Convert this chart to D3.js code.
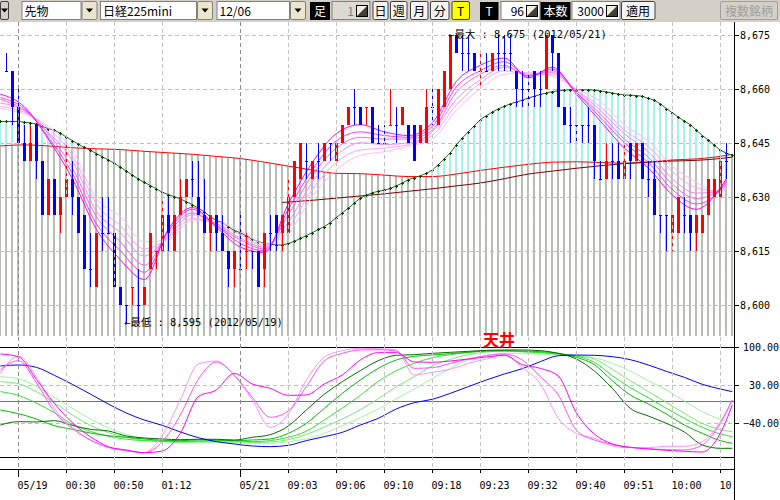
<!DOCTYPE html>
<html>
<head>
<meta charset="utf-8">
<script src="https://cdn.jsdelivr.net/npm/d3@7"></script>
<style>
  body { margin: 0; background: #fff; }
  svg { display: block; }
</style>
</head>
<body>
<div id="chart"></div>
<script>
// ---- data ----
// candles for bars 1..121 : [open, high, low, close]
const ohlc = [
  [8665,8670,8665,8665],[8665,8665,8650,8655],[8655,8660,8645,8645],[8645,8650,8640,8640],[8640,8650,8640,8645],
  [8650,8650,8635,8640],[8640,8640,8625,8625],[8625,8635,8625,8635],[8635,8635,8625,8625],[8625,8630,8620,8630],
  [8630,8645,8630,8635],[8635,8640,8625,8630],[8630,8630,8620,8620],[8625,8625,8610,8610],[8610,8620,8605,8610],
  [8605,8620,8605,8620],[8620,8630,8615,8620],[8620,8630,8620,8620],[8620,8620,8605,8605],[8605,8605,8600,8600],
  [8600,8600,8595,8600],[8605,8605,8600,8605],[8600,8610,8595,8600],[8600,8605,8600,8605],[8610,8620,8610,8620],
  [8615,8615,8610,8615],[8615,8630,8615,8625],[8625,8630,8615,8620],[8615,8625,8615,8625],[8625,8635,8625,8630],
  [8630,8635,8630,8635],[8635,8640,8630,8635],[8630,8640,8625,8625],[8625,8635,8620,8620],[8620,8625,8615,8625],
  [8625,8625,8615,8620],[8620,8625,8615,8615],[8615,8615,8605,8610],[8610,8615,8605,8615],[8610,8625,8610,8610],
  [8615,8620,8610,8615],[8615,8615,8610,8615],[8615,8615,8605,8605],[8610,8620,8605,8620],[8620,8625,8615,8620],
  [8625,8625,8615,8620],[8620,8625,8615,8625],[8620,8635,8620,8630],[8630,8640,8630,8640],[8635,8645,8635,8645],
  [8640,8645,8635,8640],[8635,8640,8635,8640],[8640,8645,8635,8640],[8640,8645,8640,8645],[8645,8645,8640,8645],
  [8640,8645,8640,8645],[8645,8650,8645,8650],[8650,8655,8650,8655],[8655,8660,8650,8655],[8655,8655,8650,8650],
  [8655,8655,8650,8655],[8655,8655,8645,8645],[8645,8650,8645,8645],[8645,8650,8645,8645],[8650,8660,8650,8650],
  [8650,8655,8645,8650],[8650,8655,8650,8655],[8650,8650,8645,8645],[8650,8650,8640,8640],[8645,8650,8645,8650],
  [8645,8660,8645,8655],[8655,8660,8650,8655],[8650,8660,8650,8660],[8655,8665,8655,8665],[8660,8675,8660,8675],
  [8675,8675,8670,8670],[8670,8675,8665,8670],[8670,8675,8665,8670],[8670,8670,8665,8665],[8665,8670,8660,8665],
  [8665,8670,8665,8665],[8665,8670,8665,8670],[8670,8675,8665,8670],[8670,8675,8665,8670],[8670,8675,8665,8670],
  [8665,8665,8655,8660],[8660,8665,8655,8660],[8660,8665,8655,8660],[8665,8665,8655,8660],[8660,8665,8655,8660],
  [8660,8675,8660,8675],[8675,8675,8665,8670],[8670,8670,8655,8655],[8655,8655,8650,8650],[8650,8655,8645,8650],
  [8650,8650,8645,8650],[8650,8650,8645,8650],[8650,8655,8645,8650],[8650,8650,8635,8640],[8635,8640,8635,8635],
  [8635,8645,8635,8640],[8640,8645,8635,8640],[8640,8645,8635,8635],[8635,8645,8635,8640],[8645,8645,8635,8640],
  [8640,8645,8640,8645],[8645,8645,8635,8635],[8635,8640,8630,8635],[8635,8640,8625,8625],[8625,8625,8620,8625],
  [8625,8625,8615,8625],[8620,8625,8615,8625],[8620,8630,8620,8630],[8625,8630,8620,8625],[8625,8625,8615,8620],
  [8620,8625,8615,8625],[8620,8625,8620,8625],[8625,8635,8625,8635],[8630,8635,8630,8635],[8630,8640,8630,8640],
  [8640,8645,8635,8640]
];
const redDoji = [22, 26, 41, 61, 65, 80];

// long average (red) and second long average (brown)
const maRedIdx = [0,4,8,12,16,20,24,28,32,36,40,44,48,52,56,60,64,68,72,76,80,84,88,92,96,100,104,108,112,116,120,122];
const maRed = [8644.1,8644.4,8644.1,8643.6,8643.3,8643.1,8642.6,8642.2,8641.8,8641.2,8640.6,8639.6,8638.5,8637.4,8636.5,8636.4,
  8636,8635.6,8635.6,8636.3,8637.3,8638.2,8639,8639.6,8639.7,8639.5,8639.3,8639.6,8640.2,8640.5,8641.2,8641.8];
const maBrownIdx = [47,52,56,60,64,68,72,76,80,84,88,92,96,100,104,108,112,116,120,122];
const maBrown = [8628.4,8629,8629.6,8630.2,8630.8,8631.5,8632.2,8633,8633.8,8635,8636.3,8637.1,8637.9,8638.6,8639.2,8639.6,
  8639.9,8640.1,8640.6,8641];

// dark green average with markers, bars 0..122
const maGreen = [
  8650.9,8650.9,8650.9,8650.9,8650.7,8650.5,8650.2,8649.5,8648.9,8648.5,
  8647.6,8646.6,8645.6,8644.6,8643.7,8642.9,8642,8641.1,8640.2,8639.3,
  8638.2,8637.1,8636,8634.9,8634,8633.1,8632.2,8631.2,8630.6,8630,
  8629.4,8628.6,8627.8,8626.8,8625.8,8624.4,8623.4,8622.8,8621.7,8620.6,
  8620,8619.1,8618.2,8617.5,8617.1,8616.8,8616.6,8616.6,8617,8617.6,
  8618.4,8619.2,8620,8620.9,8621.7,8622.8,8624.2,8625.5,8626.8,8628.2,
  8629.6,8630.4,8631.1,8631.5,8631.8,8632.3,8633,8633.8,8634.7,8635.3,
  8635.8,8636.5,8637.4,8638.9,8640.5,8642.2,8644.4,8646.3,8648,8649.7,
  8651.4,8652.5,8653.5,8654.4,8655.1,8655.8,8656.3,8656.8,8657.4,8657.9,
  8658.4,8658.8,8659.2,8659.4,8659.6,8659.7,8659.7,8659.7,8659.7,8659.6,
  8659.4,8659.1,8658.8,8658.5,8658.3,8658.2,8658.1,8657.9,8657.3,8656.8,
  8655.8,8654.5,8653.3,8652.1,8651,8650,8648.5,8647,8645.7,8644.3,
  8642.9,8642.1,8641.5
];

// pink ribbon, fastest first
const ribbonIdx = [0,4,8,12,16,20,24,28,32,36,40,44,48,52,56,60,64,68,72,76,80,84,88,92,96,100,104,108,112,116,120,121];
const ribbon1 = [8658.5,8655,8646,8635,8621,8612.5,8607,8621,8627,8621.5,8616,8614.5,8628,8639.5,8647.5,8650,8648,8647,8650.5,8662,8666.5,8668.5,8663,8666,8658.5,8651,8643.5,8638,8630.5,8626.5,8632.5,8635];
const ribbon2 = [8657.5,8654.5,8646.5,8636.5,8622.5,8615,8609,8620.5,8626.5,8622,8617,8615,8626.5,8637.5,8645.5,8648,8647,8646.5,8649.5,8660.5,8665,8667.5,8663.5,8665.5,8659,8652,8645,8639.5,8632,8628,8632,8634.5];
const ribbon3 = [8657,8654,8647.5,8638,8624.5,8617.5,8611,8620,8625.5,8622,8618,8615.5,8625,8636,8643.5,8646.5,8646,8646,8648.5,8659,8664,8666.5,8663.5,8665,8659,8653,8646,8641,8633.5,8629.5,8632,8634];
const ribbon4 = [8656,8654,8648,8640,8626,8620,8613.5,8619,8625,8622.5,8618.5,8616,8623,8634,8641.5,8645,8644.5,8645,8648,8657,8662.5,8666,8664,8664.5,8659.5,8654,8647.5,8642.5,8635,8631,8631.5,8633.5];
const ribbon5 = [8655,8653.5,8649,8641.5,8628,8622,8615.5,8618.5,8624,8622.5,8619.5,8616.5,8621.5,8632,8639.5,8643,8643.5,8644.5,8647,8655.5,8661.5,8665,8664,8664,8659.5,8655,8648.5,8644,8637,8632.5,8631.5,8633];
const ribbon6 = [8654.5,8653,8649.5,8643,8629.5,8624.5,8617.5,8618,8623.5,8623,8620.5,8617,8620,8630,8637.5,8641.5,8642.5,8644,8646,8654,8660,8664,8664.5,8663.5,8660,8656.5,8650,8645.5,8638.5,8634,8631,8632.5];
const ribbonColors = ["#ff00ff","#ff33ff","#ff5cff","#ff80ff","#ffa0ff","#ffbcff"];

// oscillator panel
const oscIdx = [0,3,6,9,12,15,18,21,24,27,30,33,36,39,42,45,48,51,54,57,60,63,
  66,69,72,75,78,81,84,87,90,93,96,99,102,105,108,111,114,117,120,122];
const oscBlue = [65,66.9,62.6,47.9,31.3,13.5,-4.9,-21.5,-34.4,-44.2,-56.4,-66.9,-74.2,-78.5,-82.2,-83.4,-81,-72.4,-65,-57.1,-43.6,-31.3,
  -14.1,-2.5,3.7,14.7,27,39.3,50.3,60.1,73,84,85.3,84.7,82.2,76.7,66.9,55.2,44.2,31.3,22.7,17.8];
const oscG1 = [-43.6,-37.4,-38,-35.6,-44.2,-51.5,-54.6,-63.8,-67.5,-69.3,-70.6,-69.9,-69.9,-71.2,-66.3,-61.3,-45.4,-16,12.9,36.2,56.4,74.8,
  84.7,85.9,88.3,90.2,92,93.9,94.5,94.5,93.3,88.3,77.9,55.8,23.9,-12.9,-27,-40.5,-56.4,-80.4,-86.5,-86.5];
const oscG2 = [-16,-22.7,-32.5,-44.8,-51.5,-58.3,-63.2,-66.3,-69.3,-71.8,-72.4,-71.2,-71.2,-72.4,-71.2,-69.3,-58.9,-40.5,-12.9,14.7,39.3,60.7,
  76.1,82.8,85.3,87.7,90.2,92.6,93.3,92.6,91.4,88.3,81,67.5,38,11.7,-4.9,-23.3,-43.6,-58.9,-72.4,-77.3];
const oscG3 = [17.8,11,-3.1,-20.9,-42.3,-55.2,-64.4,-69.9,-72.4,-73.6,-74.2,-73.6,-72.4,-73,-74.2,-72.4,-66.3,-55.2,-34.4,-12.3,11,36.8,
  56.4,69.9,80.4,85.9,90.2,92.6,92.6,91.4,89.6,87.1,83.4,71.8,47.2,25.2,6.7,-12.9,-31.3,-47.9,-60.1,-65];
const oscG4 = [36.2,32.5,17.8,-2.5,-25.2,-44.2,-57.7,-66.3,-71.8,-74.2,-75.5,-74.2,-74.2,-74.2,-76.1,-74.8,-70.6,-61.3,-47.2,-32.5,-15.3,4.9,
  27,45.4,65,77.3,85.9,90.8,92.6,91.4,89.6,87.1,84,77.9,58.9,38,17.8,-1.8,-22.1,-40.5,-52.1,-55.8];
const oscG5 = [45.4,41.7,27.6,7.4,-12.9,-32.5,-49.1,-60.7,-68.7,-73.6,-75.5,-76.1,-76.1,-76.1,-77.3,-77.3,-74.2,-69.3,-58.9,-44.8,-30.1,-14.1,
  4.9,22.7,42.3,60.7,76.1,84.7,88.3,88.3,87.1,85.3,83.4,80.4,69.9,55.8,38,20.9,0.6,-19,-33.1,-40.5];
const oscP1 = [87.1,82.2,40.5,-3.7,-39.3,-65,-83.4,-89.6,-94.5,-91.4,-58.9,8.6,20.9,51.5,31.9,23.9,11,11.7,31.9,48.5,76.1,89.6,
  89.6,72.4,71.8,74.2,77.9,81.6,84.7,67.5,60.7,46.6,-20.9,-60.1,-78.5,-84.7,-87.7,-90.2,-92,-93.3,-58.9,-6.7];
const oscP2 = [57.7,74.8,34.4,-19,-49.7,-71.2,-84.7,-90.8,-94.5,-74.2,-25.2,40.5,72.4,48.5,7.4,-29.4,-17.8,27,74.2,88.3,94.5,95.1,
  92.6,60.7,62,69.9,77.9,84,87.1,76.1,45.4,11.7,-52.8,-71.2,-79.1,-84.7,-87.1,-89,-89.6,-80.4,-40.5,2.5];
const oscP3 = [51.5,83.4,45.4,-12.9,-47.9,-71.2,-84.7,-90.8,-94.5,-62,2.5,68.7,74.2,47.2,2.5,-47.9,-23.3,39.3,81,93.3,97.5,96.9,
  94.5,48.5,53.4,58.9,69.9,77.9,85.9,62,32.5,-31.3,-58.9,-68.1,-82.2,-85.3,-85.3,-82.8,-82.8,-74.2,-37.4,2.5];

const priceTicks = [8600, 8615, 8630, 8645, 8660, 8675];
const oscTicks = [100, 30, -40];
const timeTickIdx = [3,11,19,27,40,48,56,64,72,80,88,96,104,112,120];
const timeLabels = ["05/19","00:30","00:50","01:12","05/21","09:03","09:06","09:10","09:18","09:23","09:32","09:40","09:51","10:00","10:09"];
const dayTickIdx = [3, 40];
const notes = [
  { idx: 75, price: 8675, text: "←最大 : 8,675 (2012/05/21)" },
  { idx: 21, price: 8595, text: "←最低 : 8,595 (2012/05/19)" }
];

// ---- layout ----
const W = 780, H = 500;
const P = { left: 0, right: 734, top: 22, bottom: 336 };
const O = { top: 347, bottom: 457, axis: 469 };
const mono = "'DejaVu Sans Mono', 'Noto Sans CJK JP', monospace";
const jp = "'Noto Sans CJK JP', sans-serif";

const x = d3.scaleLinear().domain([0, 122]).range([0.3, 732.3]);
const y = d3.scaleLinear().domain([8595, 8675]).range([322.7, 34.7]);
const yo = d3.scaleLinear().domain([-102.5, 100]).range([O.bottom, O.top]);
const px = i => Math.round(x(i));

const svg = d3.select("#chart").append("svg")
  .attr("width", W).attr("height", H)
  .style("background-color", "#fff");
const defs = svg.append("defs");

// ---- toolbar ----
const tb = svg.append("g").attr("font-family", jp).attr("font-size", 12);
tb.append("rect").attr("width", W).attr("height", 22).attr("fill", "#d4d0c8");

function sunken(x0, w, fill) {
  tb.append("rect").attr("x", x0 + 0.5).attr("y", 1.5).attr("width", w - 1).attr("height", 18)
    .attr("fill", fill).attr("stroke", "#808080");
}
function raised(x0, w, fill, stroke) {
  tb.append("rect").attr("x", x0 + 0.5).attr("y", 1.5).attr("width", w - 1).attr("height", 18)
    .attr("rx", 1.5).attr("fill", fill).attr("stroke", stroke || "#404040");
}
function tri(cx) {
  tb.append("path").attr("d", `M${cx - 3.5},8.5h7l-3.5,4z`).attr("fill", "#000");
}
function label(tx, text, opts = {}) {
  tb.append("text").attr("x", tx).attr("y", 15.5)
    .attr("text-anchor", opts.anchor || "start")
    .attr("fill", opts.fill || "#000")
    .attr("font-family", opts.font || jp)
    .text(text);
}
function spin(x0) {
  tb.append("rect").attr("x", x0 + 0.5).attr("y", 5.5).attr("width", 11).attr("height", 11)
    .attr("fill", "#f4f0d8").attr("stroke", "#000");
  tb.append("path").attr("d", `M${x0 + 1},${16}L${x0 + 11},${6}V${16}z`).attr("fill", "#404040");
}

raised(0, 9, "#d4d0c8"); tri(4.5);
[[21.5, 60, "先物"], [100, 97, "日経225mini"], [216.5, 73.5, "12/06"]].forEach(([x0, w, t]) => {
  sunken(x0, w, "#fff");
  label(x0 + 3, t);
  raised(x0 + w, 16, "#ece6cc", "#808080");
  tri(x0 + w + 8);
});
tb.append("rect").attr("x", 310).attr("y", 2).attr("width", 20).attr("height", 18).attr("fill", "#000");
label(320, "足", { anchor: "middle", fill: "#fff" });
sunken(331.5, 39, "#dcdad2"); label(354, "1", { anchor: "end", fill: "#808080" }); spin(356);
[[372.5, 16, "日"], [390, 17.5, "週"], [410, 18.5, "月"], [430, 19.5, "分"]].forEach(([x0, w, t]) => {
  raised(x0, w, "#f4f4f4"); label(x0 + w / 2, t, { anchor: "middle" });
});
raised(451.5, 18.5, "#ffff00"); label(460.7, "T", { anchor: "middle" });
tb.append("rect").attr("x", 480).attr("y", 2).attr("width", 18.5).attr("height", 18).attr("fill", "#000");
label(489, "T", { anchor: "middle", fill: "#fff" });
sunken(500.5, 40, "#fff"); label(524, "96", { anchor: "end" }); spin(526);
tb.append("rect").attr("x", 540.5).attr("y", 2).attr("width", 30).attr("height", 18).attr("fill", "#000");
label(555.5, "本数", { anchor: "middle", fill: "#fff" });
sunken(571.5, 49, "#fff"); label(604, "3000", { anchor: "end" }); spin(606);
raised(621, 34.5, "#f4f4f4"); label(638, "適用", { anchor: "middle" });
raised(720, 58, "#d4d0c8", "#a0a0a0"); label(749, "複数銘柄", { anchor: "middle", fill: "#a0a0a0" });

// ---- clip regions ----
defs.append("clipPath").attr("id", "pricePlot").append("rect")
  .attr("x", P.left).attr("y", P.top).attr("width", P.right - P.left).attr("height", P.bottom - P.top);
defs.append("clipPath").attr("id", "oscPlot").append("rect")
  .attr("x", P.left).attr("y", O.top - 2).attr("width", P.right - P.left).attr("height", O.bottom - O.top + 4);
defs.append("clipPath").attr("id", "axisClip").append("rect")
  .attr("x", 0).attr("y", 0).attr("width", P.right).attr("height", H);

const redPts = maRedIdx.map((i, k) => [x(i), y(maRed[k])]);
const greenPts = maGreen.map((v, i) => [x(i), y(v)]);
const ext = pts => [[-6, pts[0][1]], ...pts, [P.right + 6, pts[pts.length - 1][1]]];
const areaTo = (base, curve) => d3.area().x(d => d[0]).y0(base).y1(d => d[1]).curve(curve);

defs.append("clipPath").attr("id", "belowRed").append("path")
  .attr("d", areaTo(P.bottom, d3.curveMonotoneX)(ext(redPts)));
defs.append("clipPath").attr("id", "aboveRed").append("path")
  .attr("d", areaTo(P.top, d3.curveMonotoneX)(ext(redPts)));
defs.append("clipPath").attr("id", "belowGreen").append("path")
  .attr("d", areaTo(P.bottom, d3.curveLinear)(ext(greenPts)));

// ---- price panel ----
const price = svg.append("g").attr("clip-path", "url(#pricePlot)");
const bars = d3.range(0, 123);

// grid
price.append("g").selectAll("line").data(priceTicks).join("line")
  .attr("x1", P.left).attr("x2", P.right)
  .attr("y1", d => Math.round(y(d)) + 0.5).attr("y2", d => Math.round(y(d)) + 0.5)
  .attr("stroke", "#c0c0c0").attr("stroke-dasharray", "4,3");

// grey stems under the long average
price.append("g").attr("clip-path", "url(#belowRed)")
  .selectAll("line").data(bars).join("line")
  .attr("x1", px).attr("x2", px).attr("y1", P.top).attr("y2", P.bottom)
  .attr("stroke", "#b6beb6").attr("stroke-width", 2);

// cyan stems where the green average is above the red one
price.append("g").attr("clip-path", "url(#aboveRed)")
  .append("g").attr("clip-path", "url(#belowGreen)")
  .selectAll("line").data(bars).join("line")
  .attr("x1", px).attr("x2", px).attr("y1", P.top).attr("y2", P.bottom)
  .attr("stroke", "#a4f2f0").attr("stroke-width", 2);

// long averages
const line = d3.line().curve(d3.curveMonotoneX);
price.append("path").attr("d", line(redPts))
  .attr("fill", "none").attr("stroke", "#ff0000").attr("stroke-width", 1);
price.append("path").attr("d", line(maBrownIdx.map((i, k) => [x(i), y(maBrown[k])])))
  .attr("fill", "none").attr("stroke", "#800000").attr("stroke-width", 1);

// green average with small + markers
price.append("path").attr("d", d3.line()(greenPts))
  .attr("fill", "none").attr("stroke", "#2a6a2a").attr("stroke-width", 1);
price.append("g").selectAll("path").data(maGreen).join("path")
  .attr("d", (v, i) => {
    const cx = px(i), cy = Math.round(y(v));
    return `M${cx - 1},${cy + 0.5}h3M${cx + 0.5},${cy - 1}v3`;
  })
  .attr("stroke", "#004000").attr("stroke-width", 1);

// pink ribbon, slowest drawn first
[ribbon1, ribbon2, ribbon3, ribbon4, ribbon5, ribbon6].map((r, k) => ({ r, k })).reverse()
  .forEach(({ r, k }) => {
    price.append("path").attr("d", line(ribbonIdx.map((i, j) => [x(i), y(r[j])])))
      .attr("fill", "none").attr("stroke", ribbonColors[k]).attr("stroke-width", 1);
  });

// candles
const candles = price.append("g").attr("shape-rendering", "crispEdges")
  .selectAll("g").data(ohlc.map((d, k) => ({ i: k + 1, o: d[0], h: d[1], l: d[2], c: d[3] })))
  .join("g")
  .attr("fill", d => (d.c > d.o || (d.c === d.o && redDoji.includes(d.i))) ? "#ff0000" : "#0000ff");
candles.append("rect")
  .attr("x", d => px(d.i)).attr("width", 1)
  .attr("y", d => Math.round(y(d.h))).attr("height", d => Math.max(1, Math.round(y(d.l)) - Math.round(y(d.h))));
candles.append("rect")
  .attr("x", d => px(d.i) - 1).attr("width", 3)
  .attr("y", d => Math.round(y(Math.max(d.o, d.c))))
  .attr("height", d => Math.max(1, Math.round(y(Math.min(d.o, d.c))) - Math.round(y(Math.max(d.o, d.c)))));

// high / low notes
svg.append("g").attr("font-family", mono).attr("font-size", 10.4)
  .selectAll("text").data(notes).join("text")
  .attr("x", d => x(d.idx) - 2).attr("y", d => y(d.price)).attr("dy", "0.36em")
  .attr("fill", "#000").text(d => d.text);

// ---- oscillator panel ----
const osc = svg.append("g");
osc.append("g").selectAll("line").data([30, -40]).join("line")
  .attr("x1", P.left).attr("x2", P.right)
  .attr("y1", d => Math.round(yo(d)) + 0.5).attr("y2", d => Math.round(yo(d)) + 0.5)
  .attr("stroke", "#c0c0c0").attr("stroke-dasharray", "4,3");

// vertical time grid through both panels
svg.append("g").selectAll("line").data(timeTickIdx).join("line")
  .attr("x1", i => px(i) + 0.5).attr("x2", i => px(i) + 0.5)
  .attr("y1", P.top).attr("y2", O.axis)
  .attr("stroke", i => dayTickIdx.includes(i) ? "#8c8c8c" : "#c4c4c4")
  .attr("stroke-dasharray", "4,3");

osc.append("line").attr("x1", P.left).attr("x2", P.right)
  .attr("y1", Math.round(yo(0)) + 0.5).attr("y2", Math.round(yo(0)) + 0.5)
  .attr("stroke", "#1e82ff").attr("stroke-width", 1);
[O.top, O.bottom].forEach(v => osc.append("line")
  .attr("x1", P.left).attr("x2", P.right).attr("y1", v + 0.5).attr("y2", v + 0.5)
  .attr("stroke", "#000"));

const oscLines = [
  [oscG5, "#a4f4a4"], [oscG4, "#74ec74"], [oscG3, "#2ee62e"], [oscG2, "#00c000"], [oscG1, "#007000"],
  [oscBlue, "#0000ff"], [oscP3, "#ff90ff"], [oscP2, "#ff50ff"], [oscP1, "#ff00ff"]
];
const oscG = osc.append("g").attr("clip-path", "url(#oscPlot)");
oscLines.forEach(([vals, col]) => {
  oscG.append("path").attr("d", line(oscIdx.map((i, k) => [x(i), yo(vals[k])])))
    .attr("fill", "none").attr("stroke", col).attr("stroke-width", 1);
});

svg.append("text").attr("x", 483).attr("y", 345.5)
  .attr("font-family", jp).attr("font-weight", "bold").attr("font-size", 16)
  .attr("fill", "#ff0000").text("天井");

// ---- axes ----
const axes = svg.append("g").attr("font-family", mono).attr("font-size", 10).attr("fill", "#000");
axes.append("line").attr("x1", P.right + 0.5).attr("x2", P.right + 0.5).attr("y1", P.top).attr("y2", H)
  .attr("stroke", "#000");
axes.append("line").attr("x1", 0).attr("x2", P.right).attr("y1", O.axis + 0.5).attr("y2", O.axis + 0.5)
  .attr("stroke", "#000");

axes.append("g").selectAll("g").data(priceTicks).join("g")
  .attr("transform", d => `translate(${P.right},${Math.round(y(d)) + 0.5})`)
  .call(g => g.append("line").attr("x2", 5).attr("stroke", "#000"))
  .call(g => g.append("text").attr("x", 6).attr("dy", "0.36em").text(d => d3.format(",")(d)));

axes.append("g").selectAll("g").data(oscTicks).join("g")
  .attr("transform", d => `translate(${P.right},${Math.round(yo(d)) + 0.5})`)
  .call(g => g.append("line").attr("x2", 5).attr("stroke", "#000"))
  .call(g => g.append("text").attr("x", 45).attr("text-anchor", "end").attr("dy", "0.36em")
    .text(d => d3.format(".2f")(d)));

const xt = axes.append("g").attr("clip-path", "url(#axisClip)")
  .selectAll("g").data(timeTickIdx).join("g")
  .attr("transform", i => `translate(${px(i) + 0.5},${O.axis})`);
xt.append("line").attr("y2", i => dayTickIdx.includes(i) ? 8 : 4).attr("stroke", "#000");
xt.append("text").attr("x", -1).attr("y", 19.5).text((i, k) => timeLabels[k]);
</script>
</body>
</html>
